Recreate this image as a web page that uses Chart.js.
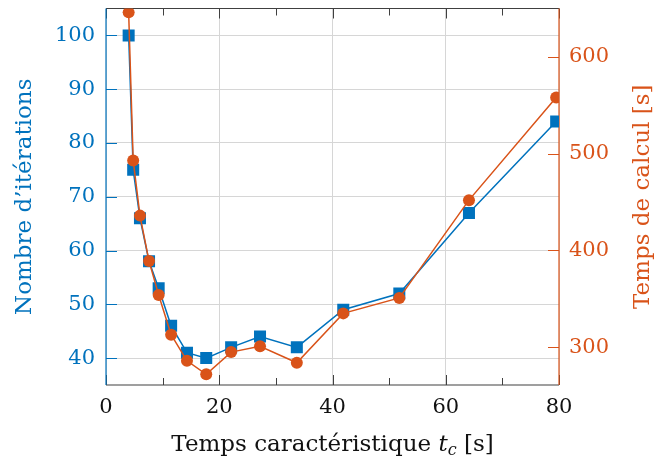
<!DOCTYPE html>
<html>
<head>
<meta charset="utf-8">
<script src="https://cdn.jsdelivr.net/npm/chart.js@4.4.1/dist/chart.umd.min.js"></script>
<style>
html,body{margin:0;padding:0;background:#fff}
</style>
</head>
<body>
<canvas id="c" width="655" height="462"></canvas>
<script>
// characteristic time t_c [s]
const tc = [4, 4.8, 6, 7.6, 9.3, 11.5, 14.3, 17.7, 22.1, 27.2, 33.7, 41.9, 51.8, 64.1, 79.5];
// number of iterations (left axis)
const iterations = [100, 75, 66, 58, 53, 46, 41, 40, 42, 44, 42, 49, 52, 67, 84];
// computation time [s] (right axis)
const calcTime = [646, 493, 436, 389, 354, 313, 286, 272, 295, 301, 284, 335, 351, 452, 558];

const xTicks = [0, 20, 40, 60, 80];
const xMinor = [10, 30, 50, 70];
const yTicks = [40, 50, 60, 70, 80, 90, 100];
const y1Ticks = [300, 400, 500, 600];

const BLUE = '#0072bd', ORANGE = '#d95319', DARK = '#404040';
const FONT = '"DejaVu Serif", serif';
Chart.defaults.font.family = FONT;

function line(ctx, x1, y1, x2, y2){ctx.beginPath();ctx.moveTo(x1,y1);ctx.lineTo(x2,y2);ctx.stroke();}

// axis frame + inward ticks, pgfplots style
const frame = {
  id: 'frame',
  beforeDatasetsDraw(chart){
    const {ctx, chartArea: a, scales} = chart;
    ctx.save();
    ctx.lineWidth = 1;
    ctx.strokeStyle = DARK;
    const tk = (v, len) => {
      const px = Math.round(scales.x.getPixelForValue(v)) + 0.5;
      line(ctx, px, a.bottom, px, a.bottom - len);
      line(ctx, px, a.top, px, a.top + len);
    };
    xTicks.forEach(v => tk(v, 10));
    xMinor.forEach(v => tk(v, 7));
    ctx.strokeStyle = BLUE;
    yTicks.forEach(v => {const py = Math.round(scales.y.getPixelForValue(v)) + 0.5; line(ctx, a.left, py, a.left + 11, py)});
    ctx.strokeStyle = ORANGE;
    y1Ticks.forEach(v => {const py = Math.round(scales.y1.getPixelForValue(v)) + 0.5; line(ctx, a.right - 11, py, a.right, py)});
    // spines
    ctx.lineWidth = 1.2;
    ctx.strokeStyle = DARK;
    line(ctx, a.left, a.top, a.right, a.top);
    line(ctx, a.left, a.bottom, a.right, a.bottom);
    ctx.strokeStyle = BLUE;
    line(ctx, a.left, a.top, a.left, a.bottom);
    ctx.strokeStyle = ORANGE;
    line(ctx, a.right, a.top, a.right, a.bottom);
    ctx.restore();
  },
  afterDraw(chart){
    const {ctx, chartArea: a} = chart;
    const cy = (a.top + a.bottom) / 2;
    ctx.save();
    ctx.textAlign = 'center';
    ctx.textBaseline = 'middle';
    ctx.font = '23px ' + FONT;
    // left title
    ctx.save(); ctx.translate(25, cy); ctx.rotate(-Math.PI/2);
    ctx.fillStyle = BLUE; ctx.fillText("Nombre d\u2019itérations", 0, 0); ctx.restore();
    // right title
    ctx.save(); ctx.translate(643, cy); ctx.rotate(-Math.PI/2);
    ctx.fillStyle = ORANGE; ctx.fillText('Temps de calcul [s]', 0, 0); ctx.restore();
    // x title with italic t_c
    const parts = [
      ['Temps caractéristique ', '23px ' + FONT, 0],
      ['t', 'italic 23px ' + FONT, 0],
      ['c', 'italic 16px ' + FONT, 4],
      [' [s]', '23px ' + FONT, 0]
    ];
    let w = 0;
    parts.forEach(p => {ctx.font = p[1]; w += ctx.measureText(p[0]).width});
    let x = (a.left + a.right) / 2 - w / 2;
    ctx.textAlign = 'left';
    ctx.textBaseline = 'alphabetic';
    ctx.fillStyle = '#111';
    parts.forEach(p => {ctx.font = p[1]; ctx.fillText(p[0], x, 451 + p[2]); x += ctx.measureText(p[0]).width});
    ctx.restore();
  }
};

const fix = (prop, val) => s => {s[prop] = val; s.paddingTop = 0; s.paddingBottom = 0; s.paddingLeft = 0; s.paddingRight = 0;};
const setTicks = arr => s => {s.ticks = arr.map(v => ({value: v}))};

new Chart(document.getElementById('c'), {
  type: 'line',
  data: {
    datasets: [
      {
        label: "Nombre d'itérations",
        data: tc.map((t, i) => ({x: t, y: iterations[i]})),
        yAxisID: 'y',
        borderColor: BLUE, backgroundColor: BLUE,
        borderWidth: 1.5,
        pointStyle: 'rect', pointRadius: 8.5,
        pointBorderWidth: 0,
        order: 2
      },
      {
        label: 'Temps de calcul [s]',
        data: tc.map((t, i) => ({x: t, y: calcTime[i]})),
        yAxisID: 'y1',
        borderColor: ORANGE, backgroundColor: ORANGE,
        borderWidth: 1.5,
        pointStyle: 'circle', pointRadius: 6,
        pointBorderWidth: 0,
        order: 1
      }
    ]
  },
  options: {
    responsive: false,
    animation: false,
    layout: {padding: {top: 8, left: 0, right: 0, bottom: 0}},
    plugins: {legend: {display: false}, tooltip: {enabled: false}},
    scales: {
      x: {
        type: 'linear', min: 0, max: 80,
        afterBuildTicks: setTicks(xTicks),
        afterFit: fix('height', 77),
        grid: {color: '#d6d6d6', drawTicks: false},
        border: {display: false},
        ticks: {color: '#111', font: {size: 21}, padding: 10, maxRotation: 0}
      },
      y: {
        position: 'left', min: 35, max: 105,
        afterBuildTicks: setTicks(yTicks),
        afterFit: fix('width', 106),
        grid: {color: '#d6d6d6', drawTicks: false},
        border: {display: false},
        ticks: {color: BLUE, font: {size: 21}, padding: 11}
      },
      y1: {
        position: 'right', min: 261, max: 650,
        afterBuildTicks: setTicks(y1Ticks),
        afterFit: fix('width', 96),
        grid: {display: false, drawTicks: false},
        border: {display: false},
        ticks: {color: ORANGE, font: {size: 21}, padding: 10}
      }
    }
  },
  plugins: [frame]
});
</script>
</body>
</html>
